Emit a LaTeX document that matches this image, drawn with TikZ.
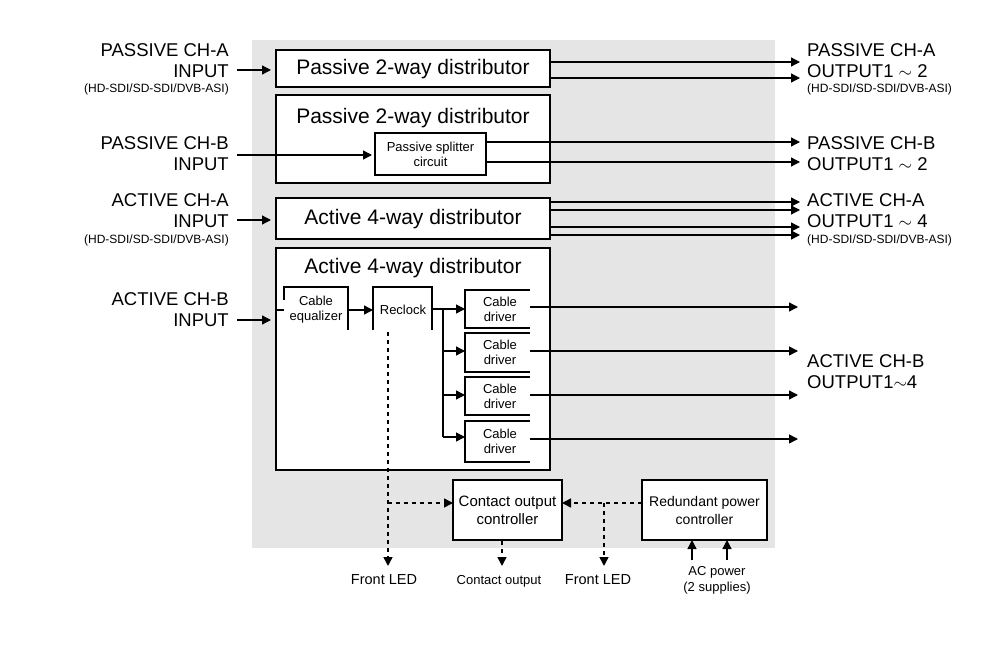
\documentclass[tikz,border=0pt]{standalone}
\usepackage{fontspec}
\setmainfont{Liberation Sans}
\usetikzlibrary{arrows.meta}
\begin{document}
\begin{tikzpicture}[x=1pt,y=-1pt,
 box/.style={draw,line width=1.6pt,fill=white,inner sep=0},
 ar/.style={line width=1.3pt,-{Triangle[length=9pt,width=9pt]}},
 ln/.style={line width=1.3pt},
 da/.style={line width=1.6pt,dash pattern=on 4pt off 4pt,-{Triangle[length=9pt,width=9pt]}},
 lab/.style={font=\fontsize{18.5}{20}\selectfont,inner sep=0},
 sm/.style={font=\fontsize{12}{13}\selectfont,inner sep=0},
 bt/.style={font=\fontsize{21}{24}\selectfont},
 it/.style={font=\fontsize{13}{15}\selectfont,align=center},
 ct/.style={font=\fontsize{15}{18}\selectfont,align=center}]
\useasboundingbox (0,0) rectangle (988,655);
\fill[black!10] (252,40) rectangle (775,548);
% boxes
\draw[box] (276,50) rectangle (550,87);
\node[bt] (p2a) at (413,69) {Passive 2-way distributor};
\draw[box] (276,95) rectangle (550,183);
\node[bt] (p2b) at (413,118) {Passive 2-way distributor};
\node[box,minimum width=111,minimum height=42,it] (spl) at (430.5,154) {Passive splitter\\circuit};
\draw[box] (276,198) rectangle (550,239);
\node[bt] (a4a) at (413,219) {Active 4-way distributor};
\draw[box] (276,248) rectangle (550,470);
\node[bt] (a4b) at (413,268) {Active 4-way distributor};
\draw[line width=1.6pt] (284,300)--(284,287)--(348,287)--(348,330);
\node[it] (eq) at (316,310) {Cable\\equalizer};
\draw[line width=1.6pt] (373,330)--(373,287)--(432,287)--(432,330);
\node[it] (rc) at (403,310) {Reclock};
\foreach \n/\a/\b in {d1/290/328,d2/333/372,d3/377/415,d4/421/462}{
 \draw[line width=1.6pt] (530,\a)--(465,\a)--(465,\b)--(530,\b);
 \node[it] (\n) at (500,{(\a+\b)/2}) {Cable\\driver};}
\node[box,minimum width=109,minimum height=60,ct] (coc) at (507.5,510) {Contact output\\controller};
\node[box,minimum width=125,minimum height=60,ct,font=\fontsize{14}{18}\selectfont] (rpc) at (704.5,510) {Redundant power\\controller};
% left labels
\node[lab,anchor=east] (la1) at (229,50) {PASSIVE CH-A};
\node[lab,anchor=east] (la2) at (229,71) {INPUT};
\node[sm,anchor=east] (la3) at (229,89) {(HD-SDI/SD-SDI/DVB-ASI)};
\node[lab,anchor=east] (lb1) at (229,143) {PASSIVE CH-B};
\node[lab,anchor=east] (lb2) at (229,164) {INPUT};
\node[lab,anchor=east] (lc1) at (229,200) {ACTIVE CH-A};
\node[lab,anchor=east] (lc2) at (229,221) {INPUT};
\node[sm,anchor=east] (lc3) at (229,240) {(HD-SDI/SD-SDI/DVB-ASI)};
\node[lab,anchor=east] (ld1) at (229,299) {ACTIVE CH-B};
\node[lab,anchor=east] (ld2) at (229,320) {INPUT};
% right labels
\node[lab,anchor=west] (ra1) at (807,50) {PASSIVE CH-A};
\node[lab,anchor=west] (ra2) at (807,71) {OUTPUT1 $\sim$ 2};
\node[sm,anchor=west] (ra3) at (807,89) {(HD-SDI/SD-SDI/DVB-ASI)};
\node[lab,anchor=west] (rb1) at (807,143) {PASSIVE CH-B};
\node[lab,anchor=west] (rb2) at (807,164) {OUTPUT1 $\sim$ 2};
\node[lab,anchor=west] (rc1) at (807,200) {ACTIVE CH-A};
\node[lab,anchor=west] (rc2) at (807,221) {OUTPUT1 $\sim$ 4};
\node[sm,anchor=west] (rc3) at (807,240) {(HD-SDI/SD-SDI/DVB-ASI)};
\node[lab,anchor=west] (rd1) at (807,361) {ACTIVE CH-B};
\node[lab,anchor=west] (rd2) at (807,382) {OUTPUT1$\sim$4};
% bottom labels
\node[font=\fontsize{14.5}{16}\selectfont] (fl1) at (384,580) {Front LED};
\node[font=\fontsize{13}{15}\selectfont] (co) at (499,581) {Contact output};
\node[font=\fontsize{14.5}{16}\selectfont] (fl2) at (598,580) {Front LED};
\node[font=\fontsize{13}{16}\selectfont,align=center] (ac) at (717,580) {AC power\\(2 supplies)};
% inputs
\draw[ar] (237,70)--(271,70);
\draw[ar] (237,155)--(372,155);
\draw[ar] (237,220)--(271,220);
\draw[ar] (237,320)--(271,320);
\draw[ln] (276,310)--(284,310);
\draw[ar] (348,310)--(373,310);
% outputs
\foreach \y in {62,78}{\draw[ar] (550,\y)--(800,\y);}
\foreach \y in {142,162}{\draw[ar] (486,\y)--(800,\y);}
\foreach \y in {202,210,227,235}{\draw[ar] (550,\y)--(800,\y);}
\foreach \y in {307,351,395,439}{\draw[ar] (530,\y)--(798,\y);}
\draw[ar] (432,309)--(465,309);
\draw[ln] (443,309)--(443,437);
\foreach \y in {351,395,437}{\draw[ar] (443,\y)--(465,\y);}
% dashed
\draw[da] (388,332)--(388,566);
\draw[da] (388,503)--(453,503);
\draw[da] (642,503)--(562,503);
\draw[da] (604,503)--(604,566);
\draw[da] (502,541)--(502,566);
\draw[ar] (692,560)--(692,540);
\draw[ar] (727,560)--(727,540);
\end{tikzpicture}
\end{document}
